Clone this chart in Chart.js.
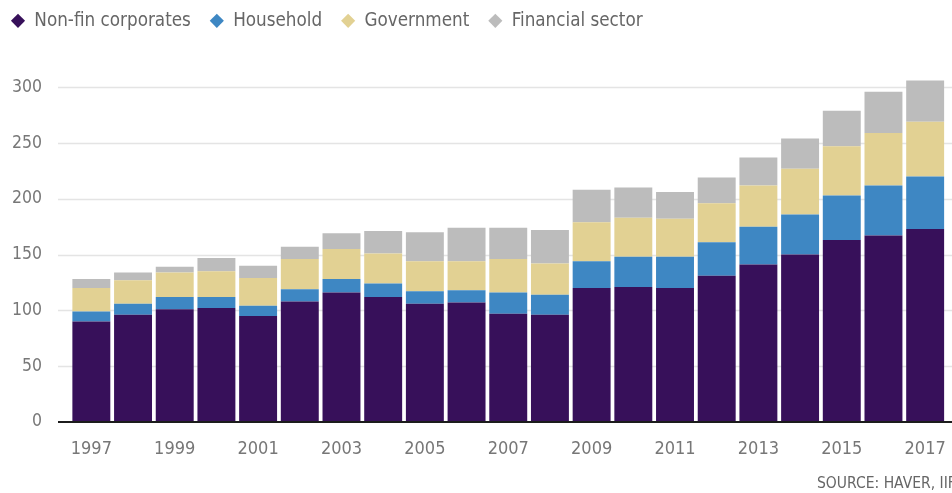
<!DOCTYPE html>
<html>
<head>
<meta charset="utf-8">
<script src="https://cdn.jsdelivr.net/npm/chart.js@4/dist/chart.umd.min.js"></script>
<style>
    html, body { margin: 0; padding: 0; background: #fff; overflow: hidden; }
    #wrap { position: relative; width: 952px; height: 493px; overflow: hidden; }
    #source {
        position: absolute; left: 817px; top: 474px;
        font: 15.5px "DejaVu Sans Condensed", sans-serif; color: #666; white-space: nowrap;
    }
</style>
</head>
<body>
<div id="wrap">
    <canvas id="debtChart" width="952" height="493"></canvas>
    <div id="source">SOURCE: HAVER, IIF</div>
</div>
<script>
// ---- data ----
const years = ['1997','1998','1999','2000','2001','2002','2003','2004','2005','2006','2007',
               '2008','2009','2010','2011','2012','2013','2014','2015','2016','2017'];
const nonFinCorporates = [90, 96, 101, 102, 95, 108, 116, 112, 106, 107, 97, 96, 120, 121, 120, 131, 141, 150, 163, 167, 173];
const household        = [ 9, 10, 11, 10,  9, 11, 12, 12, 11, 11, 19, 18, 24, 27, 28, 30, 34, 36, 40, 45, 47];
const government       = [21, 21, 22, 23, 25, 27, 27, 27, 27, 26, 30, 28, 35, 35, 34, 35, 37, 41, 44, 47, 49];
const financialSector  = [ 8,  7,  5, 12, 11, 11, 14, 20, 26, 30, 28, 30, 29, 27, 24, 23, 25, 27, 32, 37, 37];
const yTicks = [0, 50, 100, 150, 200, 250, 300];

const FONT = '"DejaVu Sans Condensed", "DejaVu Sans", sans-serif';

// gridlines + baseline run past the chart area on the left, like the original
const backdrop = {
    id: 'backdrop',
    afterLayout(chart) {
        chart.legend.left -= 8;
        chart.legend.top -= 47;
    },
    beforeDatasetsDraw(chart) {
        const { ctx, scales: { y } } = chart;
        ctx.save();
        ctx.strokeStyle = '#e4e4e4';
        ctx.lineWidth = 1.5;
        yTicks.forEach(v => {
            if (v === 0) return;
            const py = Math.round(y.getPixelForValue(v)) + 0.5;
            ctx.beginPath();
            ctx.moveTo(58, py);
            ctx.lineTo(chart.width, py);
            ctx.stroke();
        });
        ctx.restore();
    },
    afterDatasetsDraw(chart) {
        const { ctx, scales: { y } } = chart;
        const py = y.getPixelForValue(0);
        ctx.save();
        ctx.strokeStyle = '#1c1c1c';
        ctx.lineWidth = 2;
        ctx.beginPath();
        ctx.moveTo(58, py);
        ctx.lineTo(chart.width, py);
        ctx.stroke();
        ctx.restore();
    }
};

const ctx = document.getElementById('debtChart').getContext('2d');
new Chart(ctx, {
    type: 'bar',
    data: {
        labels: years,
        datasets: [
            { label: 'Non-fin corporates', data: nonFinCorporates, backgroundColor: '#37105a' },
            { label: 'Household', data: household, backgroundColor: '#3e87c3' },
            { label: 'Government', data: government, backgroundColor: '#e2d193' },
            { label: 'Financial sector', data: financialSector, backgroundColor: '#bcbcbc' }
        ]
    },
    options: {
        responsive: false,
        animation: false,
        layout: { padding: { top: 39.5, right: 6, bottom: 15.5, left: 0 } },
        datasets: {
            bar: { categoryPercentage: 1, barPercentage: 0.91, borderWidth: 0, clip: false }
        },
        plugins: {
            legend: {
                position: 'top',
                align: 'start',
                labels: {
                    usePointStyle: true,
                    pointStyle: 'rectRot',
                    boxWidth: 14,
                    boxHeight: 10,
                    padding: 19,
                    color: '#666',
                    font: { family: FONT, size: 18.7 }
                }
            },
            tooltip: { enabled: false }
        },
        scales: {
            x: {
                stacked: true,
                grid: { display: false, drawTicks: false },
                border: { display: false },
                // bars run right up to the edge, the last label may overhang
                afterFit: (s) => { s.paddingLeft = 0; s.paddingRight = 0; },
                ticks: {
                    autoSkip: false,
                    maxRotation: 0,
                    padding: 17,
                    color: '#777',
                    font: { family: FONT, size: 18 },
                    callback: (v, i) => (i % 2 === 0 ? years[i] : '')
                }
            },
            y: {
                stacked: true,
                min: 0,
                max: 300,
                grid: { display: false, drawTicks: false },
                border: { display: false },
                afterFit: (s) => { s.width = 70.5; },
                afterBuildTicks: (s) => { s.ticks = yTicks.map(v => ({ value: v })); },
                ticks: {
                    padding: 28.5,
                    color: '#777',
                    font: { family: FONT, size: 17.5 }
                }
            }
        }
    },
    plugins: [backdrop]
});
</script>
</body>
</html>
